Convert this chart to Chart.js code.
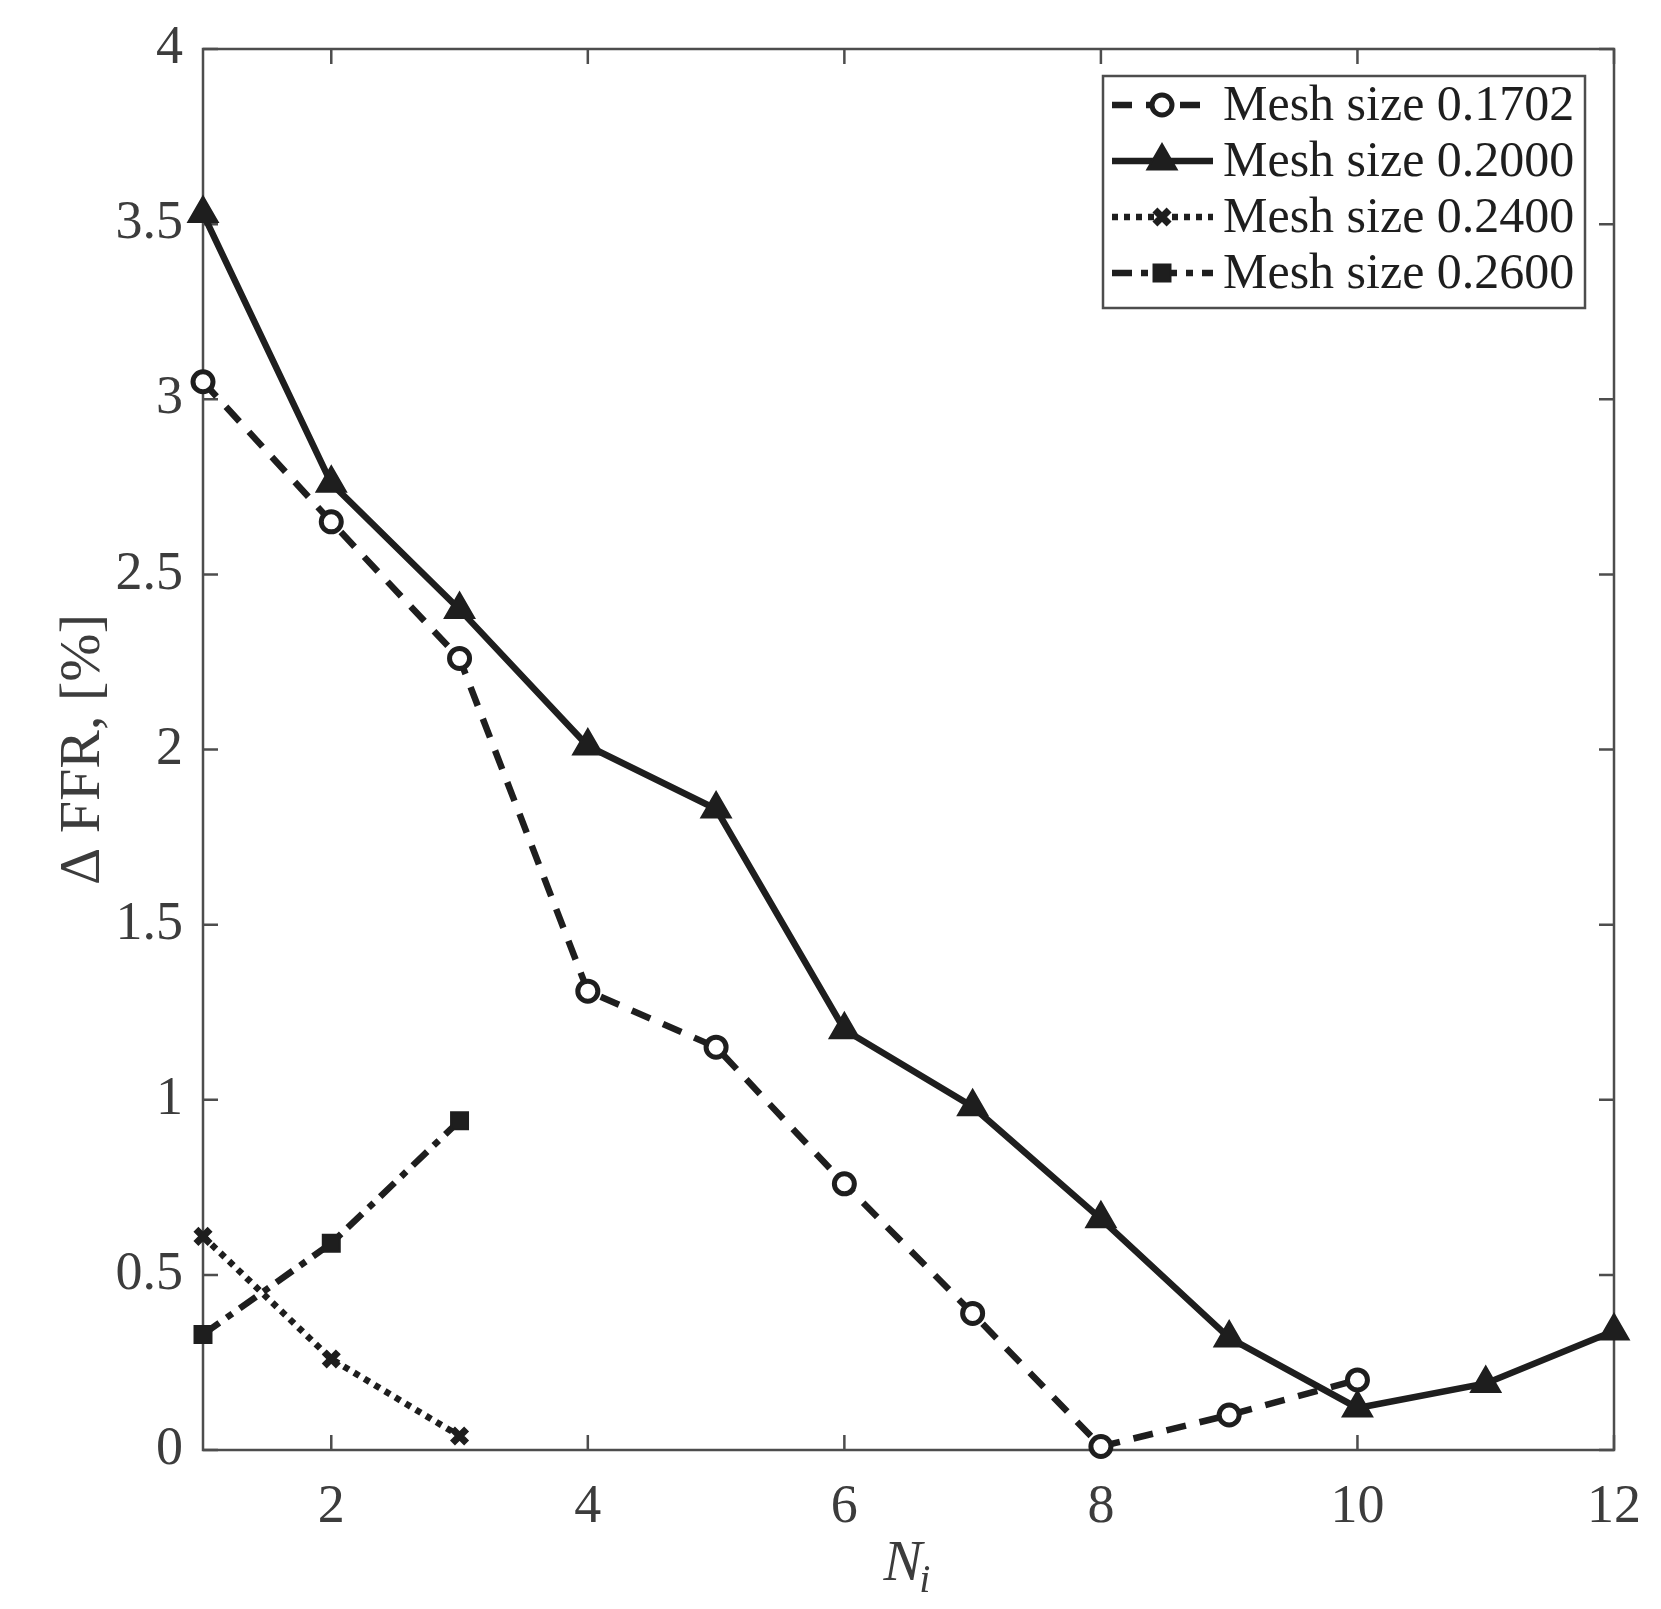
<!DOCTYPE html>
<html>
<head>
<meta charset="utf-8">
<script src="https://cdn.jsdelivr.net/npm/chart.js@4.4.1/dist/chart.umd.min.js"></script>
<style>
  html, body { margin: 0; padding: 0; background: #ffffff; }
  #wrap { width: 1661px; height: 1609px; }
</style>
</head>
<body>
<div id="wrap"><canvas id="ffrChart" width="1661" height="1609"></canvas></div>
<script>
// Values
const iterations = [1, 2, 3, 4, 5, 6, 7, 8, 9, 10, 11, 12];
const mesh1702 = [3.05, 2.65, 2.26, 1.31, 1.15, 0.76, 0.39, 0.01, 0.10, 0.20];
const mesh2000 = [3.53, 2.76, 2.40, 2.01, 1.83, 1.20, 0.98, 0.66, 0.32, 0.12, 0.19, 0.34];
const mesh2400 = [0.61, 0.26, 0.04];
const mesh2600 = [0.33, 0.59, 0.94];
const seriesLabels = ['Mesh size 0.1702', 'Mesh size 0.2000', 'Mesh size 0.2400', 'Mesh size 0.2600'];
const xTicks = [2, 4, 6, 8, 10, 12];
const yTicks = [0, 0.5, 1, 1.5, 2, 2.5, 3, 3.5, 4];

const ink = '#1e1e1e';
const axisGray = '#4d4d4d';
const labelGray = '#3c3c3c';
const serif = '"Liberation Serif", "DejaVu Serif", serif';

function toPoints(values) {
    return values.map((v, i) => ({ x: iterations[i], y: v }));
}

// box, inward ticks and axis titles, drawn before the lines
const frame = {
    id: 'frame',
    beforeDatasetsDraw(chart) {
        const { ctx, chartArea: a, scales } = chart;
        const len = 15;
        ctx.save();
        ctx.strokeStyle = axisGray;
        ctx.lineWidth = 2.5;
        ctx.strokeRect(a.left, a.top, a.right - a.left, a.bottom - a.top);
        ctx.beginPath();
        xTicks.forEach(t => {
            const px = scales.x.getPixelForValue(t);
            ctx.moveTo(px, a.bottom); ctx.lineTo(px, a.bottom - len);
            ctx.moveTo(px, a.top); ctx.lineTo(px, a.top + len);
        });
        yTicks.forEach(t => {
            const py = scales.y.getPixelForValue(t);
            ctx.moveTo(a.left, py); ctx.lineTo(a.left + len, py);
            ctx.moveTo(a.right, py); ctx.lineTo(a.right - len, py);
        });
        ctx.stroke();

        // axis titles
        ctx.fillStyle = labelGray;
        ctx.textBaseline = 'alphabetic';
        ctx.font = 'italic 58px ' + serif;
        const nW = ctx.measureText('N').width;
        ctx.font = 'italic 40px ' + serif;
        const iW = ctx.measureText('i').width;
        const cx = (a.left + a.right) / 2;
        const startX = cx - (nW + iW) / 2;
        ctx.font = 'italic 58px ' + serif;
        ctx.textAlign = 'left';
        ctx.fillText('N', startX, 1580);
        ctx.font = 'italic 40px ' + serif;
        ctx.fillText('i', startX + nW - 3, 1592);

        ctx.translate(99, (a.top + a.bottom) / 2);
        ctx.rotate(-Math.PI / 2);
        ctx.textAlign = 'center';
        ctx.font = '58px ' + serif;
        ctx.fillText('\u0394 FFR, [%]', 0, 0);
        ctx.restore();
    }
};

// legend with line samples drawn from each dataset's own style
const boxLegend = {
    id: 'boxLegend',
    afterDatasetsDraw(chart) {
        const { ctx } = chart;
        const x0 = 1103, y0 = 76, w = 482, h = 232;
        const rows = [105, 161, 217, 273];
        ctx.save();
        ctx.fillStyle = '#ffffff';
        ctx.fillRect(x0, y0, w, h);
        ctx.strokeStyle = axisGray;
        ctx.lineWidth = 2.5;
        ctx.strokeRect(x0, y0, w, h);
        chart.data.datasets.forEach((ds, i) => {
            const y = rows[i];
            ctx.strokeStyle = ds.borderColor;
            ctx.lineWidth = ds.borderWidth;
            ctx.setLineDash(ds.borderDash || []);
            ctx.beginPath();
            ctx.moveTo(1112, y);
            ctx.lineTo(1213, y);
            ctx.stroke();
            ctx.setLineDash([]);
            ctx.fillStyle = ds.pointBackgroundColor;
            ctx.strokeStyle = ds.pointBorderColor;
            ctx.lineWidth = ds.pointBorderWidth;
            Chart.helpers.drawPoint(ctx, {
                pointStyle: ds.pointStyle,
                radius: ds.pointRadius,
                borderWidth: ds.pointBorderWidth,
                rotation: 0
            }, 1162, y);
            ctx.fillStyle = ink;
            ctx.font = '50px ' + serif;
            ctx.textAlign = 'left';
            ctx.textBaseline = 'middle';
            ctx.fillText(ds.label, 1223, y + 2);
        });
        ctx.restore();
    }
};

const ctx = document.getElementById('ffrChart').getContext('2d');
const chart = new Chart(ctx, {
    type: 'line',
    data: {
        datasets: [
            {
                label: seriesLabels[0],
                data: toPoints(mesh1702),
                borderColor: ink,
                borderWidth: 6.5,
                borderDash: [20, 14],
                pointStyle: 'circle',
                pointRadius: 10,
                pointBorderWidth: 5,
                pointBackgroundColor: '#ffffff',
                pointBorderColor: ink
            },
            {
                label: seriesLabels[1],
                data: toPoints(mesh2000),
                borderColor: ink,
                borderWidth: 6.5,
                pointStyle: 'triangle',
                pointRadius: 17,
                pointBorderWidth: 2,
                pointBackgroundColor: ink,
                pointBorderColor: ink
            },
            {
                label: seriesLabels[2],
                data: toPoints(mesh2400),
                borderColor: ink,
                borderWidth: 6.5,
                borderDash: [6, 6],
                pointStyle: 'crossRot',
                pointRadius: 10,
                pointBorderWidth: 7,
                pointBackgroundColor: ink,
                pointBorderColor: ink
            },
            {
                label: seriesLabels[3],
                data: toPoints(mesh2600),
                borderColor: ink,
                borderWidth: 6.5,
                borderDash: [20, 9, 7, 9],
                pointStyle: 'rect',
                pointRadius: 12,
                pointBorderWidth: 2,
                pointBackgroundColor: ink,
                pointBorderColor: ink
            }
        ]
    },
    options: {
        responsive: false,
        animation: false,
        clip: false,
        layout: { padding: { left: 0, top: 49, right: 47, bottom: 0 } },
        plugins: {
            legend: { display: false },
            tooltip: { enabled: false }
        },
        elements: { line: { tension: 0 } },
        scales: {
            x: {
                type: 'linear',
                min: 1,
                max: 12,
                grid: { display: false },
                border: { display: false },
                afterBuildTicks: s => { s.ticks = xTicks.map(v => ({ value: v })); },
                afterFit: s => { s.height = 159; },
                ticks: {
                    color: labelGray,
                    padding: 17,
                    font: { family: serif, size: 54 },
                    callback: v => String(v),
                    maxRotation: 0
                }
            },
            y: {
                type: 'linear',
                min: 0,
                max: 4,
                grid: { display: false },
                border: { display: false },
                afterBuildTicks: s => { s.ticks = yTicks.map(v => ({ value: v })); },
                afterFit: s => { s.width = 203; },
                ticks: {
                    color: labelGray,
                    padding: 12,
                    font: { family: serif, size: 54 },
                    callback: v => String(v)
                }
            }
        }
    },
    plugins: [frame, boxLegend]
});
</script>
</body>
</html>
